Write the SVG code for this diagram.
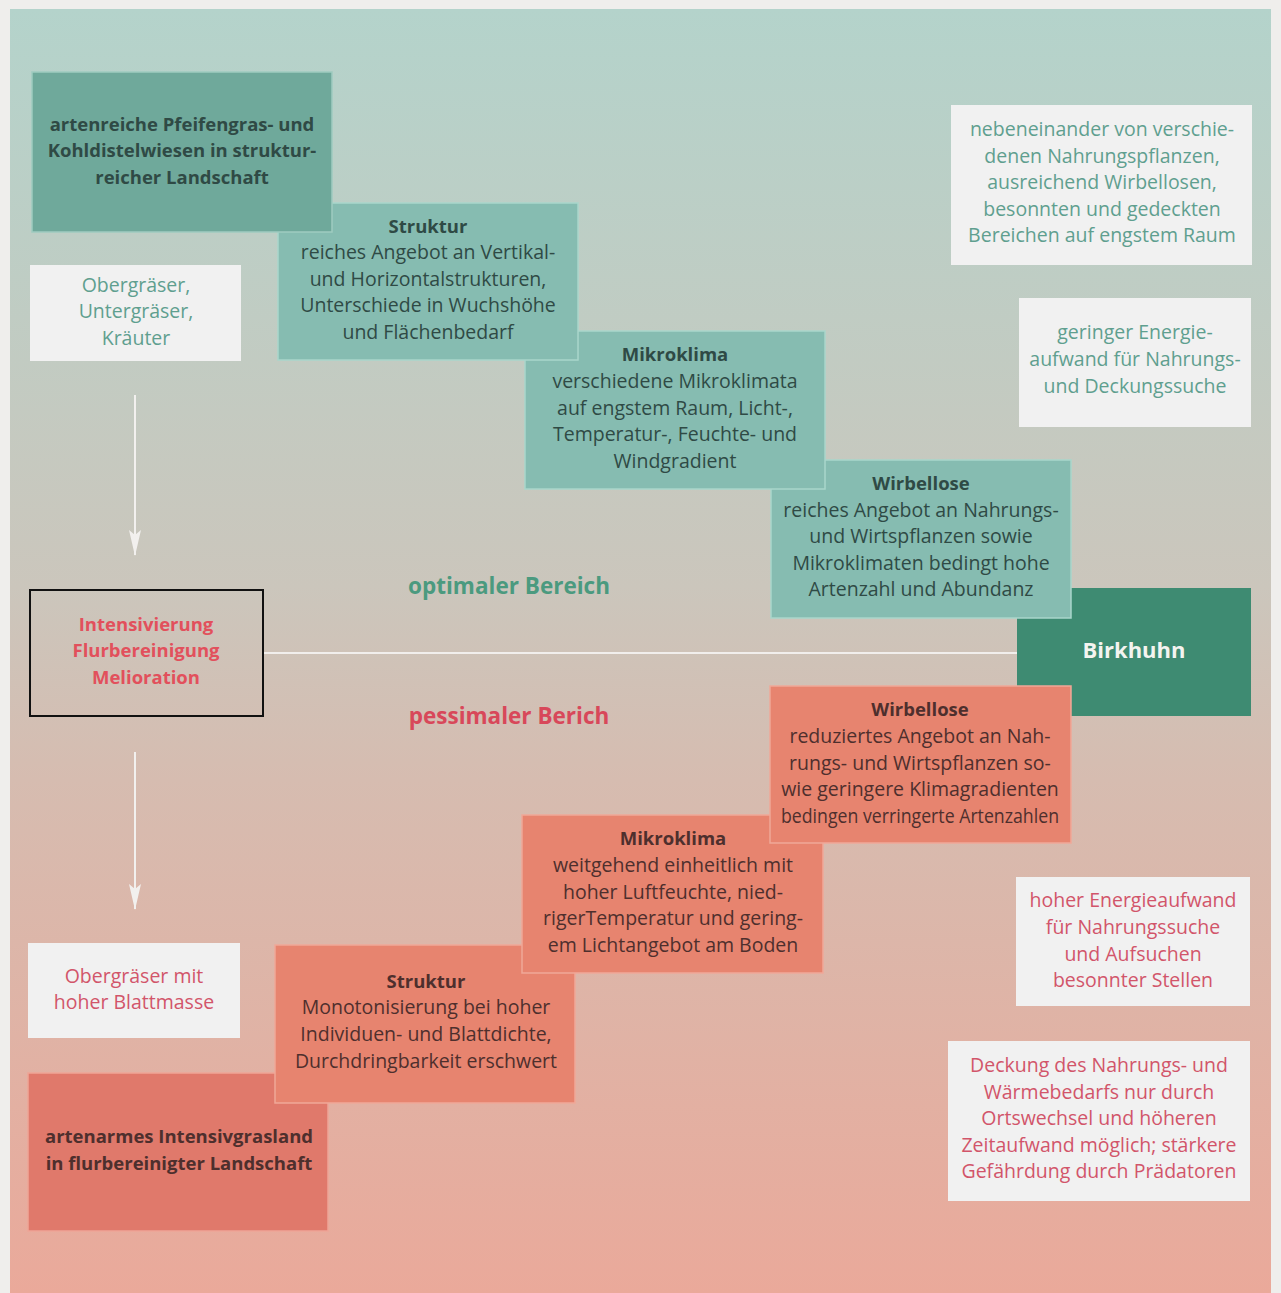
<svg xmlns="http://www.w3.org/2000/svg" width="1281" height="1293" viewBox="0 0 1281 1293">
<defs>
<linearGradient id="bg" x1="0" y1="0" x2="0" y2="1">
<stop offset="0" stop-color="#b4d3cb"/>
<stop offset="0.45" stop-color="#cbc6bc"/>
<stop offset="0.6" stop-color="#d6bcb0"/>
<stop offset="1" stop-color="#eaa99a"/>
</linearGradient>
<marker id="arr" viewBox="0 0 26 12" refX="25" refY="6" markerWidth="26" markerHeight="12" markerUnits="userSpaceOnUse" orient="auto">
<path d="M0,0 L5,6 L0,12 L26,6 Z" fill="#f2f0ee"/>
</marker>
</defs>
<style>
text{font-family:"Open Sans","Noto Sans","Liberation Sans",sans-serif;font-size:19.5px;text-anchor:middle}
.tealD{fill:#6fa99b;stroke:#9fcbc0;stroke-width:1.5}
.teal{fill:#86bcb1;stroke:#a9d6cb;stroke-width:1.5}
.bird{fill:#3e8b72}
.red{fill:#e7846f;stroke:#f0a898;stroke-width:1.5}
.redD{fill:#e0796b;stroke:#eea597;stroke-width:1.5}
.white{fill:#f1f1f1}
.dk{fill:#2f4a45}
.rdk{fill:#4e2f2d}
.b{font-weight:bold;font-size:18.5px}
.tw{fill:#5f9f8f}
.rw{fill:#d2556a}
</style>
<rect x="0" y="0" width="1281" height="1293" fill="#efeeec"/>
<rect x="10" y="9" width="1261" height="1284" fill="url(#bg)"/>

<g id="connectors">
<line x1="263" y1="653" x2="1017" y2="653" stroke="#f1eeec" stroke-width="2"/>
<line x1="135" y1="395" x2="135" y2="555" stroke="#f2f0ee" stroke-width="2" marker-end="url(#arr)"/>
<line x1="135" y1="752" x2="135" y2="909" stroke="#f2f0ee" stroke-width="2" marker-end="url(#arr)"/>
</g>

<g id="label-optimal"><text x="509" y="594" class="b" style="font-size:22.5px;fill:#4b9a7f">optimaler Bereich</text></g>
<g id="label-pessimal"><text x="509" y="724" class="b" style="font-size:22.5px;fill:#d8485a">pessimaler Berich</text></g>

<g id="birkhuhn">
<rect x="1017" y="588" width="234" height="128" class="bird"/>
<text x="1134" y="658" class="b" style="font-size:22px;fill:#f4f4f0">Birkhuhn</text>
</g>

<g id="wirbellose-opt">
<rect x="771" y="460" width="300" height="158" class="teal"/>
<text x="921" y="490" class="b dk">Wirbellose</text>
<text x="921" y="517" class="dk">reiches Angebot an Nahrungs-</text>
<text x="921" y="543" class="dk">und Wirtspflanzen sowie</text>
<text x="921" y="570" class="dk">Mikroklimaten bedingt hohe</text>
<text x="921" y="596" class="dk">Artenzahl und Abundanz</text>
</g>
<g id="mikroklima-opt">
<rect x="525" y="331" width="300" height="158" class="teal"/>
<text x="675" y="361" class="b dk">Mikroklima</text>
<text x="675" y="388" class="dk">verschiedene Mikroklimata</text>
<text x="675" y="415" class="dk">auf engstem Raum, Licht-,</text>
<text x="675" y="441" class="dk">Temperatur-, Feuchte- und</text>
<text x="675" y="468" class="dk">Windgradient</text>
</g>
<g id="struktur-opt">
<rect x="278" y="203" width="300" height="157" class="teal"/>
<text x="428" y="233" class="b dk">Struktur</text>
<text x="428" y="259" class="dk">reiches Angebot an Vertikal-</text>
<text x="428" y="286" class="dk">und Horizontalstrukturen,</text>
<text x="428" y="312" class="dk">Unterschiede in Wuchshöhe</text>
<text x="428" y="339" class="dk">und Flächenbedarf</text>
</g>
<g id="landschaft-opt">
<rect x="32" y="72" width="300" height="160" class="tealD"/>
<text x="182" y="131" class="b dk">artenreiche Pfeifengras- und</text>
<text x="182" y="157" class="b dk">Kohldistelwiesen in struktur-</text>
<text x="182" y="184" class="b dk">reicher Landschaft</text>
</g>

<g id="graeser-opt">
<rect x="30" y="265" width="211" height="96" class="white"/>
<text x="136" y="292" class="tw">Obergräser,</text>
<text x="136" y="318" class="tw">Untergräser,</text>
<text x="136" y="345" class="tw">Kräuter</text>
</g>
<g id="nebeneinander">
<rect x="951" y="105" width="301" height="160" class="white"/>
<text x="1102" y="136" class="tw">nebeneinander von verschie-</text>
<text x="1102" y="163" class="tw">denen Nahrungspflanzen,</text>
<text x="1102" y="189" class="tw">ausreichend Wirbellosen,</text>
<text x="1102" y="216" class="tw">besonnten und gedeckten</text>
<text x="1102" y="242" class="tw">Bereichen auf engstem Raum</text>
</g>
<g id="geringer-energie">
<rect x="1019" y="298" width="232" height="129" class="white"/>
<text x="1135" y="339" class="tw">geringer Energie-</text>
<text x="1135" y="366" class="tw">aufwand für Nahrungs-</text>
<text x="1135" y="393" class="tw">und Deckungssuche</text>
</g>

<g id="intensivierung">
<rect x="30" y="590" width="233" height="126" fill="none" stroke="#111" stroke-width="2"/>
<text x="146" y="631" class="b" style="fill:#e2505c">Intensivierung</text>
<text x="146" y="657" class="b" style="fill:#e2505c">Flurbereinigung</text>
<text x="146" y="684" class="b" style="fill:#e2505c">Melioration</text>
</g>

<g id="bottom-left-red">
<rect x="28" y="1073" width="300" height="158" class="redD"/>
<text x="179" y="1143" class="b rdk">artenarmes Intensivgrasland</text>
<text x="179" y="1170" class="b rdk">in flurbereinigter Landschaft</text>
</g>
<g id="struktur-pess">
<rect x="275" y="945" width="300" height="158" class="red"/>
<text x="426" y="988" class="b rdk">Struktur</text>
<text x="426" y="1014" class="rdk">Monotonisierung bei hoher</text>
<text x="426" y="1041" class="rdk">Individuen- und Blattdichte,</text>
<text x="426" y="1068" class="rdk">Durchdringbarkeit erschwert</text>
</g>
<g id="mikroklima-pess">
<rect x="522" y="815" width="301" height="158" class="red"/>
<text x="673" y="845" class="b rdk">Mikroklima</text>
<text x="673" y="872" class="rdk">weitgehend einheitlich mit</text>
<text x="673" y="899" class="rdk">hoher Luftfeuchte, nied-</text>
<text x="673" y="925" class="rdk">rigerTemperatur und gering-</text>
<text x="673" y="952" class="rdk">em Lichtangebot am Boden</text>
</g>
<g id="wirbellose-pess">
<rect x="770" y="686" width="301" height="157" class="red"/>
<text x="920" y="716" class="b rdk">Wirbellose</text>
<text x="920" y="743" class="rdk">reduziertes Angebot an Nah-</text>
<text x="920" y="770" class="rdk">rungs- und Wirtspflanzen so-</text>
<text x="920" y="796" class="rdk">wie geringere Klimagradienten</text>
<text x="920" y="823" class="rdk" textLength="278" lengthAdjust="spacingAndGlyphs">bedingen verringerte Artenzahlen</text>
</g>

<g id="graeser-pess">
<rect x="28" y="943" width="212" height="95" class="white"/>
<text x="134" y="983" class="rw">Obergräser mit</text>
<text x="134" y="1009" class="rw">hoher Blattmasse</text>
</g>
<g id="hoher-energie">
<rect x="1016" y="877" width="234" height="129" class="white"/>
<text x="1133" y="907" class="rw">hoher Energieaufwand</text>
<text x="1133" y="934" class="rw">für Nahrungssuche</text>
<text x="1133" y="961" class="rw">und Aufsuchen</text>
<text x="1133" y="987" class="rw">besonnter Stellen</text>
</g>
<g id="deckung">
<rect x="948" y="1041" width="302" height="160" class="white"/>
<text x="1099" y="1072" class="rw">Deckung des Nahrungs- und</text>
<text x="1099" y="1099" class="rw">Wärmebedarfs nur durch</text>
<text x="1099" y="1125" class="rw">Ortswechsel und höheren</text>
<text x="1099" y="1152" class="rw">Zeitaufwand möglich; stärkere</text>
<text x="1099" y="1178" class="rw">Gefährdung durch Prädatoren</text>
</g>
</svg>
